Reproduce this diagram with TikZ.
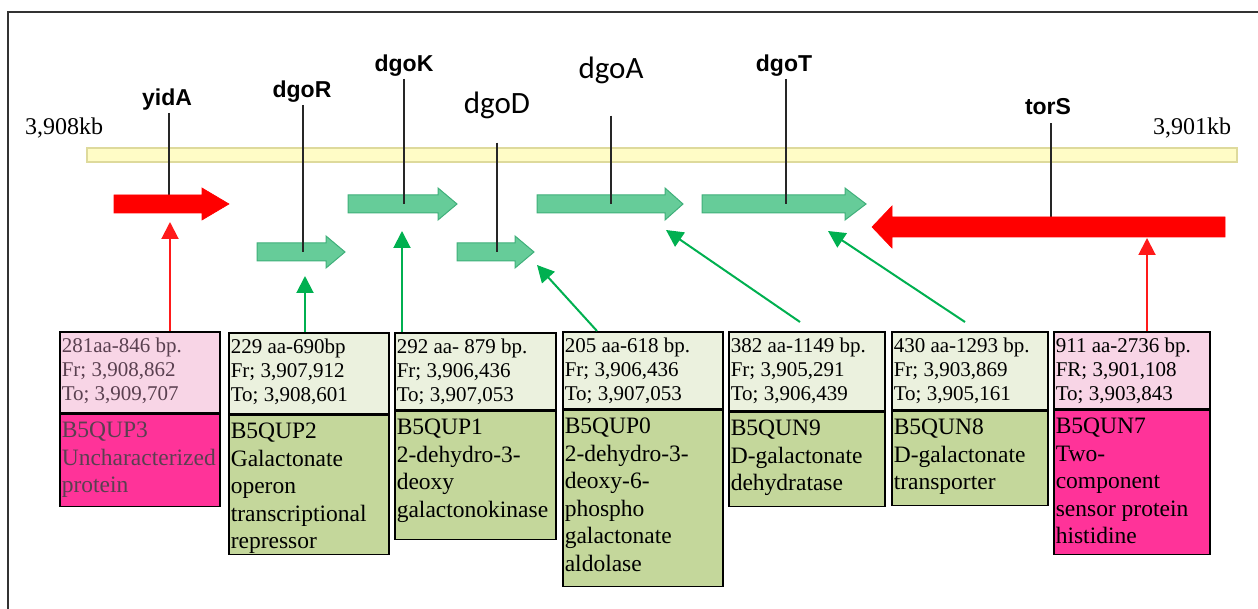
\documentclass[tikz,border=0pt]{standalone}
\usepackage{fontspec}
\setmainfont{Liberation Serif}
\newfontfamily\arialfont{Liberation Sans}
\newfontfamily\calfont{Carlito}
\usetikzlibrary{arrows.meta,calc}
\definecolor{gfill}{HTML}{66CC99}
\definecolor{gedge}{HTML}{3FAF7A}
\definecolor{gcon}{HTML}{00B050}
\definecolor{rcon}{HTML}{FF1A1A}
\definecolor{pinktop}{HTML}{F8D5E6}
\definecolor{pinklow}{HTML}{FF3399}
\definecolor{greentop}{HTML}{EBF1DE}
\definecolor{greenlow}{HTML}{C4D79B}
\definecolor{barfill}{HTML}{FFFCC6}
\definecolor{baredge}{HTML}{DEDA9C}
\definecolor{frame}{HTML}{333333}
\definecolor{dimtext}{HTML}{5A4050}
\newcommand\genearr[7]{\path[#1] (#2,#5-#6) -- (#3,#5-#6) -- (#3,#5-#7) -- (#4,#5) -- (#3,#5+#7) -- (#3,#5+#6) -- (#2,#5+#6) -- cycle;}
\newcommand\toptxt[3]{\parbox[t][#2pt][t]{#1pt}{\rule{0pt}{21pt}#3}}
\newcommand\lowtxt[3]{\parbox[t][#2pt][t]{#1pt}{\rule{0pt}{23.5pt}#3}}
\tikzset{
  genelab/.style={font=\arialfont\bfseries\fontsize{23}{26}\selectfont, inner sep=2pt},
  genelabc/.style={font=\calfont\fontsize{31}{34}\selectfont, inner sep=2pt},
  kblab/.style={font=\fontsize{24}{26}\selectfont, inner sep=0pt},
  tick/.style={draw=black!85, line width=2pt},
  greenarr/.style={fill=gfill, draw=gedge, line width=1pt},
  redarr/.style={fill=red, draw=red, line width=0.6pt},
  infobox/.style={draw=black, line width=1.6pt, anchor=north west, inner xsep=2pt, inner ysep=0pt, font=\fontsize{21}{24}\selectfont},
  descbox/.style={draw=black, line width=1.6pt, anchor=north west, inner xsep=2pt, inner ysep=0pt, font=\fontsize{23.5}{27.5}\selectfont},
  gconn/.style={draw=gcon, line width=2pt, -{Triangle[width=17pt,length=17pt]}},
  rconn/.style={draw=rcon, line width=2pt, -{Triangle[width=17pt,length=17pt]}},
}
\begin{document}
\begin{tikzpicture}[x=1pt,y=-1pt]
\useasboundingbox (0,0) rectangle (1258,609);
% frame
\draw[frame, line width=1.5pt] (8,609) -- (8,12) -- (1258,12);
% chromosome bar
\path[fill=barfill, draw=baredge, line width=1.2pt] (87,148) rectangle (1237,162);
\node[kblab] (kbL) at (64,128) {3,908kb};
\node[kblab] (kbR) at (1192,128) {3,901kb};
% gene labels
\node[genelab] (LyidA) at (167,100) {yidA};
\node[genelab] (LdgoR) at (302,92) {dgoR};
\node[genelab] (LdgoK) at (404,66) {dgoK};
\node[genelabc] (LdgoD) at (497,105) {dgoD};
\node[genelabc] (LdgoA) at (611,70) {dgoA};
\node[genelab] (LdgoT) at (784,66) {dgoT};
\node[genelab] (LtorS) at (1048,107) {torS};
% gene coordinates (body centres)
\coordinate (GyidA) at (169,204);
\coordinate (GdgoR) at (303,252);
\coordinate (GdgoK) at (404,204);
\coordinate (GdgoD) at (497,252);
\coordinate (GdgoA) at (611,204);
\coordinate (GdgoT) at (786,204);
\coordinate (GtorS) at (1051,227);
% green gene arrows
\genearr{greenarr}{257}{326}{345}{252}{9}{16}
\genearr{greenarr}{348}{438}{457}{204}{9}{16}
\genearr{greenarr}{457}{515}{534}{252}{9}{16}
\genearr{greenarr}{537}{665}{683}{204}{9}{16}
\genearr{greenarr}{702}{845}{866}{204}{9}{16}
% tick lines
\draw[tick] (LyidA.south -| GyidA) -- (GyidA);
\draw[tick] (LdgoR.south -| GdgoR) -- (GdgoR);
\draw[tick] (LdgoK.south -| GdgoK) -- (GdgoK);
\draw[tick] ([yshift=-22pt]LdgoD.south -| GdgoD) -- (GdgoD);
\draw[tick] ([yshift=-30pt]LdgoA.south -| GdgoA) -- (GdgoA);
\draw[tick] (LdgoT.south -| GdgoT) -- (GdgoT);
\draw[tick] ([yshift=-6pt]LtorS.south -| GtorS) -- (GtorS);
% red gene arrows
\genearr{redarr}{114}{202}{229}{204}{9}{16}
\genearr{redarr}{1225}{892}{872}{227}{10}{21}
% info boxes
\node[infobox, fill=pinktop, text=dimtext] (i1) at (59,331) {\toptxt{156}{81}{281aa-846 bp.\\Fr; 3,908,862\\To; 3,909,707}};
\node[descbox, fill=pinklow, text=dimtext] (d1) at (i1.south west) {\lowtxt{156}{92}{B5QUP3\\Uncharacterized\\protein}};
\node[infobox, fill=greentop] (i2) at (228,332) {\toptxt{156}{81}{229 aa-690bp\\Fr; 3,907,912\\To; 3,908,601}};
\node[descbox, fill=greenlow] (d2) at (i2.south west) {\lowtxt{156}{139}{B5QUP2\\Galactonate\\operon\\transcriptional\\repressor}};
\node[infobox, fill=greentop] (i3) at (394,332) {\toptxt{157}{77}{292 aa- 879 bp.\\Fr; 3,906,436\\To; 3,907,053}};
\node[descbox, fill=greenlow] (d3) at (i3.south west) {\lowtxt{157}{128}{B5QUP1\\2-dehydro-3-\\deoxy\\galactonokinase}};
\node[infobox, fill=greentop] (i4) at (562,331) {\toptxt{156}{77}{205 aa-618 bp.\\Fr; 3,906,436\\To; 3,907,053}};
\node[descbox, fill=greenlow] (d4) at (i4.south west) {\lowtxt{156}{176}{B5QUP0\\2-dehydro-3-\\deoxy-6-\\phospho\\galactonate\\aldolase}};
\node[infobox, fill=greentop] (i5) at (728,331) {\toptxt{152}{79}{382 aa-1149 bp.\\Fr; 3,905,291\\To; 3,906,439}};
\node[descbox, fill=greenlow] (d5) at (i5.south west) {\lowtxt{152}{94}{B5QUN9\\D-galactonate\\dehydratase}};
\node[infobox, fill=greentop] (i6) at (891,331) {\toptxt{152}{78}{430 aa-1293 bp.\\Fr; 3,903,869\\To; 3,905,161}};
\node[descbox, fill=greenlow] (d6) at (i6.south west) {\lowtxt{152}{94}{B5QUN8\\D-galactonate\\transporter}};
\node[infobox, fill=pinktop] (i7) at (1053,331) {\toptxt{152}{77}{911 aa-2736 bp.\\FR; 3,901,108\\To; 3,903,843}};
\node[descbox, fill=pinklow] (d7) at (i7.south west) {\lowtxt{152}{144}{B5QUN7\\Two-\\component\\sensor protein\\histidine}};
% connector targets
\coordinate (a1) at (170,222);
\coordinate (a2) at (305,276);
\coordinate (a3) at (402,231);
\coordinate (a4) at (537,265);
\coordinate (a5) at (666,230);
\coordinate (a6) at (828,231);
\coordinate (a7) at (1147,238);
% connectors
\draw[rconn] (i1.north west -| a1) -- (a1);
\draw[gconn] (i2.north west -| a2) -- (a2);
\draw[gconn] (i3.north west -| a3) -- (a3);
\draw[gconn] ($(i4.north west)+(35,0)$) -- (a4);
\draw[gconn] ($(i5.north west)+(72,-9)$) -- (a5);
\draw[gconn] ($(i6.north west)+(74,-9)$) -- (a6);
\draw[rconn] (i7.north west -| a7) -- (a7);
\end{tikzpicture}
\end{document}
